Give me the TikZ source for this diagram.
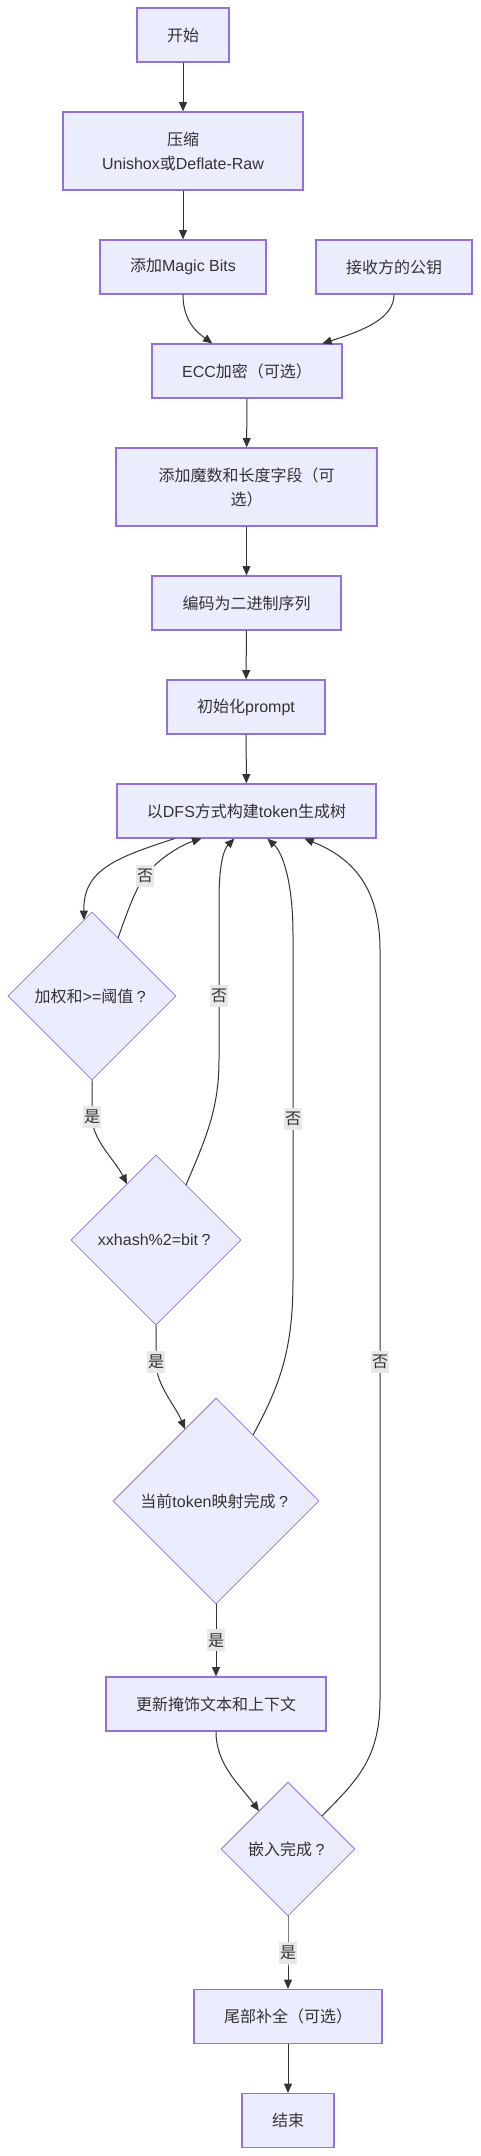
\documentclass[tikz,border=0pt]{standalone}
\usepackage{fontspec}
\setmainfont{Liberation Sans}
\newfontfamily\cjkfont{Noto Sans CJK SC}
\usetikzlibrary{shapes.geometric,arrows.meta,calc}
\definecolor{nodefill}{HTML}{ECECFF}
\definecolor{nodeline}{HTML}{9370DB}
\definecolor{edgecol}{HTML}{333333}
\definecolor{labbg}{HTML}{E8E8E8}
\newcommand{\zhtxt}[1]{{\cjkfont #1}}
\newcommand{\fwq}{\makebox[12pt][c]{?}}
\begin{document}
\begin{tikzpicture}[x=0.75pt,y=-0.75pt,
  every node/.style={font=\fontsize{12pt}{18pt}\selectfont, text=edgecol},
  box/.style n args={2}{draw=nodeline, fill=nodefill, line width=0.9pt, inner sep=0pt, align=center,
    minimum width=#1*0.75pt, minimum height=#2*0.75pt},
  dia/.style={draw=nodeline, fill=nodefill, line width=0.6pt, diamond, aspect=1, inner sep=0pt,
    minimum size=#1*0.75pt},
  conn/.style={draw=edgecol, line width=0.75pt, -{Triangle[length=7pt,width=6pt]}},
  lab/.style={fill=labbg, inner xsep=0.5pt, inner ysep=3pt}
]
\path[use as bounding box, fill=white] (0,0) rectangle (480,2156);

% nodes
\node[box={92}{54}]  (start) at (183,35) {\zhtxt{开始}};
\node[box={240}{78}] (comp) at (183,151) {\zhtxt{压缩}\\Unishox\zhtxt{或}Deflate-Raw};
\node[box={166}{54}] (magic) at (183,267) {\zhtxt{添加}Magic Bits};
\node[box={156}{54}] (key) at (394,267) {\zhtxt{接收方的公钥}};
\node[box={190}{54}] (ecc) at (247,371) {ECC\zhtxt{加密（可选）}};
\node[box={261}{78}] (mnum) at (246.5,487) {\zhtxt{添加魔数和长度字段（可}\\\zhtxt{选）}};
\node[box={189}{54}] (enc) at (246.5,603) {\zhtxt{编码为二进制序列}};
\node[box={158}{54}] (init) at (246,707) {\zhtxt{初始化}prompt};
\node[box={259}{54}] (dfs) at (246.5,811) {\zhtxt{以}DFS\zhtxt{方式构建}token\zhtxt{生成树}};
\node[dia={168}] (d1) at (92,996) {\zhtxt{加权和}>=\zhtxt{阈值}\fwq};
\node[dia={170}] (d2) at (156,1240) {xxhash\%2=bit\fwq};
\node[dia={206}] (d3) at (216,1501) {\zhtxt{当前}token\zhtxt{映射完成}\fwq};
\node[box={220}{54}] (upd) at (216,1704) {\zhtxt{更新掩饰文本和上下文}};
\node[dia={134}] (emb) at (288,1849) {\zhtxt{嵌入完成}\fwq};
\node[box={188}{54}] (tail) at (288,2016.5) {\zhtxt{尾部补全（可选）}};
\node[box={92}{54}] (end) at (288,2120.5) {\zhtxt{结束}};

% connectors
\draw[conn] (start) -- (comp);
\draw[conn] (comp) -- (magic);
\draw[conn] (magic.south) .. controls (183,322) and (198,333) .. ($(ecc.north west)+(61,0)$);
\draw[conn] (key.south) .. controls (394,318) and (365,330) .. ($(ecc.north west)+(171,0)$);
\draw[conn] (ecc) -- (mnum);
\draw[conn] (mnum) -- (enc);
\draw[conn] (enc) -- (init);
\draw[conn] (init) -- (dfs);
\draw[conn] ($(dfs.south west)+(58,0)$) .. controls (115,858) and (83,870) .. ($(d1.center)+(-8,-76)$);
\draw[conn] ($(d1.center)+(26,-58)$) .. controls (128,910) and (135,890) .. (145,876) node[lab]{\zhtxt{否}}
   .. controls (155,862) and (178,846) .. ($(dfs.south west)+(85,0)$);
\draw[conn] (d1.south) -- (92,1117) node[lab]{\zhtxt{是}}
   .. controls (92,1140) and (115,1160) .. ($(d2.center)+(-29,-56)$);
\draw[conn] ($(d2.center)+(30,-55)$) .. controls (205,1140) and (219,1110) .. (219,1060)
   -- (219,996) node[lab]{\zhtxt{否}} -- (219,900) .. controls (219,860) and (225,848) .. ($(dfs.south west)+(118,0)$);
\draw[conn] (d2.south) -- (156,1362) node[lab]{\zhtxt{是}}
   .. controls (156,1385) and (175,1405) .. ($(d3.center)+(-31,-72)$);
\draw[conn] ($(d3.center)+(37,-66)$) .. controls (280,1385) and (293,1350) .. (293,1280)
   -- (293,1119) node[lab]{\zhtxt{否}} -- (293,935) .. controls (293,880) and (282,852) .. ($(dfs.south west)+(151,0)$);
\draw[conn] (d3.south) -- node[lab]{\zhtxt{是}} (upd.north);
\draw[conn] (upd.south) .. controls (216,1765) and (240,1785) .. ($(emb.center)+(-29,-38)$);
\draw[conn] ($(emb.center)+(34,-33)$) .. controls (355,1782) and (380,1760) .. (380,1700)
   -- (380,1362) node[lab]{\zhtxt{否}} -- (380,950) .. controls (380,880) and (345,855) .. ($(dfs.south west)+(188,0)$);
\draw[conn] (emb.south) -- (288,1953) node[lab]{\zhtxt{是}} -- (tail.north);
\draw[conn] (tail) -- (end);
\end{tikzpicture}
\end{document}
